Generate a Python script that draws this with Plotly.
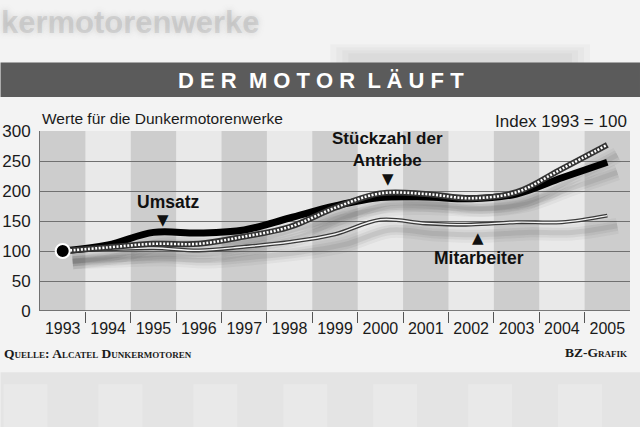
import plotly.graph_objects as go

# data (index 1993 = 100)
years = list(range(1993, 2006))
umsatz = [100, 110, 131, 130, 135, 155, 175, 189, 190, 187, 195, 222, 248]
stueckzahl = [100, 106, 112, 112, 124, 140, 172, 196, 195, 188, 198, 237, 277]
mitarbeiter = [100, 103, 105, 101, 107, 115, 128, 152, 146, 144, 148, 148, 159]
y_ticks = [0, 50, 100, 150, 200, 250, 300]

W, H = 640, 427
L, R, T, B = 39.5, 10, 130.7, 116.3
PW, PH = W - L - R, H - T - B


def px(x):
    return (x - L) / PW


def py(y):
    return (H - B - y) / PH


fig = go.Figure()

# soft shadow under the lines (offset down/right)
dx, dy = 0.22, -17
for series in (umsatz, stueckzahl, mitarbeiter):
    for w, a in ((16, 0.05), (10, 0.07), (5, 0.09)):
        fig.add_trace(go.Scatter(
            x=[v + dx for v in years], y=[v + dy for v in series],
            mode="lines", line=dict(color=f"rgba(50,50,50,{a})", width=w, shape="spline"),
            hoverinfo="skip", showlegend=False))

# Mitarbeiter: double line
fig.add_trace(go.Scatter(x=years, y=mitarbeiter, mode="lines",
                         line=dict(color="#3a3a3a", width=4, shape="spline"),
                         hoverinfo="skip", showlegend=False))
fig.add_trace(go.Scatter(x=years, y=mitarbeiter, mode="lines",
                         line=dict(color="#f4f4f4", width=1.4, shape="spline"),
                         hoverinfo="skip", showlegend=False))

# Umsatz: thick black
fig.add_trace(go.Scatter(x=years, y=umsatz, mode="lines",
                         line=dict(color="#000000", width=7, shape="spline"),
                         hoverinfo="skip", showlegend=False))

# Stückzahl: dark band with white dashes
fig.add_trace(go.Scatter(x=years, y=stueckzahl, mode="lines",
                         line=dict(color="#333333", width=6, shape="spline"),
                         hoverinfo="skip", showlegend=False))
fig.add_trace(go.Scatter(x=years, y=stueckzahl, mode="lines",
                         line=dict(color="#ffffff", width=2.6, shape="spline", dash="2px,1.6px"),
                         hoverinfo="skip", showlegend=False))

# start point
fig.add_trace(go.Scatter(x=years[:1], y=umsatz[:1], mode="markers",
                         marker=dict(color="#000000", size=14, line=dict(color="#ffffff", width=2)),
                         hoverinfo="skip", showlegend=False))

shapes = []
# alternating year columns
for i, yr in enumerate(years):
    if i % 2 == 0:
        shapes.append(dict(type="rect", xref="x", yref="paper", x0=yr - 0.5, x1=yr + 0.5,
                           y0=0, y1=1, fillcolor="#cdcdcd", line=dict(width=0), layer="below"))

# blurred smudge above the title bar (layered to look soft)
for k in range(4):
    shapes.append(dict(type="rect", xref="paper", yref="paper", x0=px(330 + 6 * k), x1=px(590 - 6 * k),
                       y0=py(64), y1=py(44 + 3 * k), fillcolor="rgba(0,0,0,0.025)",
                       line=dict(width=0), layer="below"))
# title bar
shapes.append(dict(type="rect", xref="paper", yref="paper", x0=px(0), x1=px(W),
                   y0=py(96.7), y1=py(62.3), fillcolor="#5b5b5b", line=dict(width=0), layer="below"))
# blurred page background at bottom
shapes.append(dict(type="rect", xref="paper", yref="paper", x0=px(0), x1=px(W),
                   y0=py(H), y1=py(372), fillcolor="#e4e4e4", line=dict(width=0), layer="below"))
for sx in (25, 120, 215, 305, 395, 490, 580):
    shapes.append(dict(type="rect", xref="paper", yref="paper", x0=px(sx - 22), x1=px(sx + 22),
                       y0=py(H), y1=py(384), fillcolor="rgba(255,255,255,0.2)",
                       line=dict(width=0), layer="below"))

ann = []
sans = "Liberation Sans, Arial, sans-serif"
# blurred headline behind the graphic
ann.append(dict(text="<b>kermotorenwerke</b>", x=px(-2), y=py(22), xref="paper", yref="paper",
                xanchor="left", yanchor="middle", showarrow=False,
                font=dict(family=sans, size=31, color="rgba(150,150,150,0.3)",
                          shadow="0px 0px 6px rgba(110,110,110,0.9)")))
ann.append(dict(text="D E R  M O T O R  L Ä U F T", x=px(321), y=py(80), xref="paper", yref="paper",
                xanchor="center", yanchor="middle", showarrow=False,
                font=dict(family=sans, size=22, color="#ffffff", weight="bold")))
ann.append(dict(text="Werte für die Dunkermotorenwerke", x=px(40), y=py(118), xref="paper",
                yref="paper", xanchor="left", yanchor="middle", showarrow=False,
                font=dict(family=sans, size=15.5, color="#1a1a1a")))
ann.append(dict(text="Index 1993 = 100", x=px(629), y=py(121), xref="paper", yref="paper",
                xanchor="right", yanchor="middle", showarrow=False,
                font=dict(family=sans, size=17, color="#1a1a1a")))
ann.append(dict(text="Quelle: Alcatel Dunkermotoren", x=px(1), y=py(353), xref="paper", yref="paper",
                xanchor="left", yanchor="middle", showarrow=False,
                font=dict(family="Liberation Serif, DejaVu Serif, serif", size=13.5, color="#1a1a1a",
                          weight="bold", variant="small-caps")))
ann.append(dict(text="BZ-Grafik", x=px(629), y=py(352), xref="paper", yref="paper",
                xanchor="right", yanchor="middle", showarrow=False,
                font=dict(family="Liberation Serif, DejaVu Serif, serif", size=13.5, color="#1a1a1a",
                          weight="bold", variant="small-caps")))

# series labels with pointers
lab = dict(family=sans, size=17.5, color="#111111")
tri = dict(family="DejaVu Sans", size=15, color="#111111")
ann.append(dict(text="<b>Umsatz</b>", x=1995.31, y=181, showarrow=False, font=lab))
ann.append(dict(text="▼", x=1995.22, y=151, showarrow=False, font=tri))
ann.append(dict(text="<b>Stückzahl der<br>Antriebe</b>", x=2000.15, y=269, showarrow=False,
                font=dict(family=sans, size=17, color="#111111")))
ann.append(dict(text="▼", x=2000.17, y=220, showarrow=False, font=tri))
ann.append(dict(text="<b>Mitarbeiter</b>", x=2002.18, y=88, showarrow=False, font=lab))
ann.append(dict(text="▲", x=2002.15, y=122, showarrow=False, font=tri))

fig.update_layout(
    width=W, height=H,
    margin=dict(l=L, r=R, t=T, b=B),
    paper_bgcolor="#f3f3f3",
    plot_bgcolor="#e9e9e9",
    shapes=shapes,
    annotations=ann,
    showlegend=False,
)
fig.update_xaxes(
    range=[years[0] - 0.5, years[-1] + 0.5],
    tickvals=years, ticktext=[str(v) for v in years],
    ticks="", showgrid=False, zeroline=False, showline=False, automargin=False,
    tickfont=dict(family=sans, size=16, color="#1a1a1a"),
    ticklabelstandoff=6,
    minor=dict(tickvals=[v - 0.5 for v in years[1:]], ticks="outside", ticklen=11,
               tickcolor="#555555", tickwidth=1, showgrid=False),
)
fig.update_yaxes(
    range=[0, 300], tickvals=y_ticks, automargin=False,
    showgrid=True, gridcolor="#707070", gridwidth=1,
    zeroline=False, showline=True, linecolor="#707070", linewidth=1,
    ticks="", tickfont=dict(family=sans, size=17, color="#1a1a1a"),
    ticklabelstandoff=5,
)
# x axis base line
fig.add_hline(y=0, line=dict(color="#555555", width=1.5))

fig.write_html("out.html", config={"displayModeBar": False},
               post_script="document.body.style.margin='0';document.body.style.overflow='hidden';")
